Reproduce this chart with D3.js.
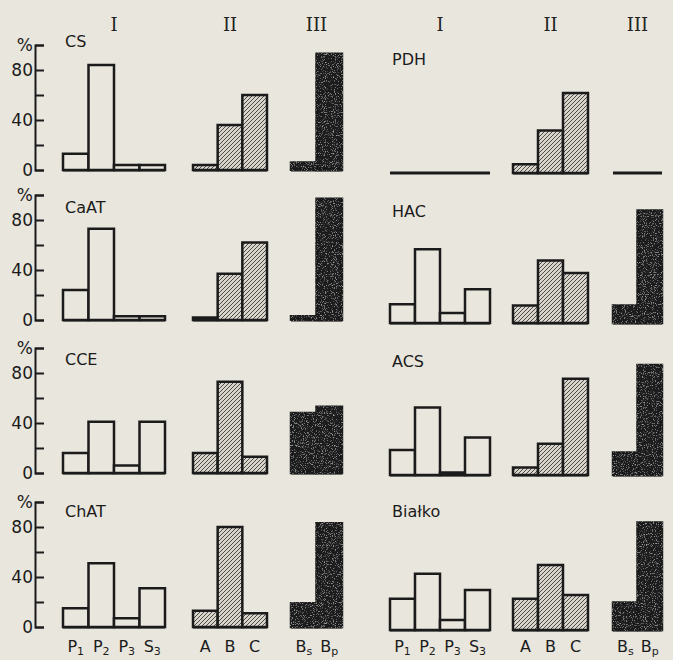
<!DOCTYPE html>
<html>
<head>
<meta charset="utf-8">
<script src="https://d3js.org/d3.v7.min.js"></script>
<style>
  body { margin: 0; background: #e9e6dd; }
  svg { display: block; }
  .lbl { font-family: "DejaVu Sans", sans-serif; fill: #1b1b1b; }
  .roman { font-family: "DejaVu Serif", "Liberation Serif", serif; fill: #222; }
</style>
</head>
<body>
<div id="chart"></div>
<script>
// panel names, left column top->bottom then right column
const panels = ["CS", "CaAT", "CCE", "ChAT", "PDH", "HAC", "ACS", "Białko"];
const groupNames = ["I", "II", "III"];
const catsI = ["P1", "P2", "P3", "S3"];
const catsII = ["A", "B", "C"];
const catsIII = ["Bs", "Bp"];

// percent values
const valuesI = [[13, 84, 4, 4], [24, 73, 3, 3], [16, 41, 6, 41], [15, 51, 7, 31],
                 [0, 0, 0, 0], [15, 59, 8, 27], [20, 54, 2, 30], [25, 45, 8, 32]];
const valuesII = [[4, 36, 60], [2, 37, 62], [16, 73, 13], [13, 80, 11],
                  [7, 34, 64], [14, 50, 40], [6, 25, 77], [25, 52, 28]];
const valuesIII = [[6, 93], [3, 97], [48, 53], [19, 83],
                   [0, 0], [14, 90], [18, 88], [22, 86]];

const yTicks = [0, 20, 40, 60, 80, 100];
const yTickLabels = { 0: "0", 40: "40", 80: "80", 100: "%" };

const width = 673, height = 660;
// layout of the two columns
const groupSpans = [
  [[63, 165], [193, 267], [291, 342]],
  [[390, 490], [513, 588], [613, 662]]
];
const baselines = [[170, 320, 473, 627], [173, 323, 475, 630]];
const labelLift = [123, 107, 108, 110, 108, 106, 108, 113];
const catLabelY = 641;

const svg = d3.select("#chart").append("svg")
  .attr("width", width).attr("height", height);

svg.append("rect").attr("width", width).attr("height", height).attr("fill", "#e9e6dd");

const defs = svg.append("defs");
const pat = defs.append("pattern")
  .attr("id", "hatch").attr("patternUnits", "userSpaceOnUse")
  .attr("width", 4).attr("height", 4);
pat.append("rect").attr("width", 4).attr("height", 4).attr("fill", "#d9d5ca");
pat.append("path")
  .attr("d", "M-1,1 l2,-2 M0,4 l4,-4 M3,5 l2,-2")
  .attr("stroke", "#4a4a4a").attr("stroke-width", 1);

// light speckle on the black bars
const grain = defs.append("filter").attr("id", "grain");
grain.append("feTurbulence").attr("type", "fractalNoise").attr("baseFrequency", 0.9)
  .attr("numOctaves", 2).attr("seed", 3).attr("result", "n");
grain.append("feColorMatrix").attr("in", "n").attr("type", "matrix")
  .attr("values", "0 0 0 0 0.33  0 0 0 0 0.33  0 0 0 0 0.33  0 0 0 -4 1.75").attr("result", "spots");
grain.append("feComposite").attr("in", "spots").attr("in2", "SourceGraphic").attr("operator", "in").attr("result", "s2");
const merge = grain.append("feMerge");
merge.append("feMergeNode").attr("in", "SourceGraphic");
merge.append("feMergeNode").attr("in", "s2");

const groupCats = [catsI, catsII, catsIII];
const groupVals = [valuesI, valuesII, valuesIII];
const fills = ["#e9e6dd", "url(#hatch)", "#1a1a1a"];

// column headers
groupSpans.forEach(spans => {
  spans.forEach((s, gi) => {
    svg.append("text").attr("class", "roman")
      .attr("x", (s[0] + s[1]) / 2).attr("y", 31)
      .attr("text-anchor", "middle").attr("font-size", 18)
      .text(groupNames[gi]);
  });
});

panels.forEach((name, pi) => {
  const col = Math.floor(pi / 4), row = pi % 4;
  const base = baselines[col][row];
  const y = d3.scaleLinear().domain([0, 100]).range([base, base - 125]);

  // panel name
  svg.append("text").attr("class", "lbl")
    .attr("x", groupSpans[col][0][0] + 2).attr("y", base - labelLift[pi])
    .attr("font-size", 16).text(name);

  // y axis only on the left column
  if (col === 0) {
    const ax = svg.append("g").attr("transform", "translate(35,0)")
      .call(d3.axisLeft(y).tickValues(yTicks)
        .tickSizeInner(-9).tickSizeOuter(-9).tickPadding(2)
        .tickFormat(d => yTickLabels[d] || ""));
    ax.selectAll("path, line").attr("stroke", "#1b1b1b").attr("stroke-width", 2);
    ax.selectAll("text").attr("class", "lbl")
      .attr("font-size", 17).attr("fill", "#1b1b1b");
    ax.attr("font-family", null).attr("font-size", null);
  }

  groupCats.forEach((cats, gi) => {
    const x = d3.scaleBand().domain(cats).range(groupSpans[col][gi]).padding(0);
    const vals = groupVals[gi][pi];
    const g = svg.append("g");

    // baseline across the group
    g.append("line")
      .attr("x1", x.range()[0]).attr("x2", x.range()[1])
      .attr("y1", y(0)).attr("y2", y(0))
      .attr("stroke", "#1b1b1b").attr("stroke-width", 3);

    g.selectAll("rect.bar").data(cats).join("rect").attr("class", "bar")
      .attr("x", d => x(d)).attr("width", x.bandwidth())
      .attr("y", (d, i) => y(vals[i]))
      .attr("height", (d, i) => y(0) - y(vals[i]))
      .attr("fill", fills[gi])
      .attr("stroke", gi === 2 ? "#1a1a1a" : "#1b1b1b")
      .attr("stroke-width", 2.5)
      .attr("filter", gi === 2 ? "url(#grain)" : null);

    // category labels under the bottom row
    if (row === 3) {
      const ax = g.append("g").attr("transform", `translate(0,${catLabelY})`)
        .call(d3.axisBottom(x).tickSize(0).tickPadding(0));
      ax.select(".domain").remove();
      ax.attr("font-family", null).attr("font-size", null);
      ax.selectAll("text").each(function (d) {
        const t = d3.select(this).text(null).attr("class", "lbl")
          .attr("font-size", 16).attr("fill", "#1b1b1b").attr("dy", "0.71em");
        t.append("tspan").text(d[0]);
        if (d.length > 1) {
          t.append("tspan").attr("font-size", 11).attr("dy", 3).text(d.slice(1));
        }
      });
    }
  });
});
</script>
</body>
</html>
